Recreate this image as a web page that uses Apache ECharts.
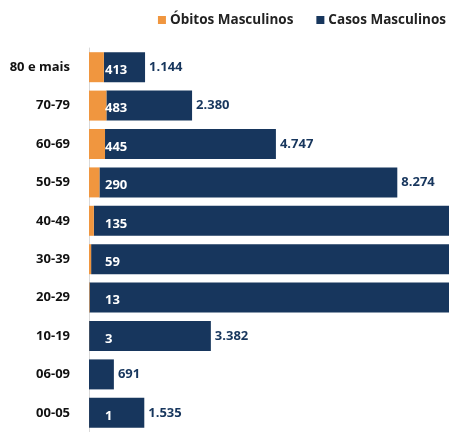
<!DOCTYPE html>
<html>
<head>
<meta charset="utf-8">
<script src="https://cdn.jsdelivr.net/npm/echarts@6/dist/echarts.min.js"></script>
<style>html,body{margin:0;padding:0;background:#fff}#c{width:449px;height:432px}</style>
</head>
<body>
<div id="c"></div>
<script>
var categories = ['80 e mais', '70-79', '60-69', '50-59', '40-49', '30-39', '20-29', '10-19', '06-09', '00-05'];
var obitos = [413, 483, 445, 290, 135, 59, 13, 3, 0, 1];
var casos = [1144, 2380, 4747, 8274, 11900, 12600, 10400, 3382, 691, 1535];
var seriesNames = ['Óbitos Masculinos', 'Casos Masculinos'];

function fmt(v) {
  return String(v).replace(/\B(?=(\d{3})+(?!\d))/g, '.');
}
var FONT = 'Open Sans';
var chart = echarts.init(document.getElementById('c'), null, {renderer: 'canvas'});
chart.setOption({
  animation: false,
  backgroundColor: '#fff',
  legend: {
    top: 13, right: 3, padding: 0,
    itemWidth: 8, itemHeight: 8, itemGap: 23,
    icon: 'rect',
    textStyle: {fontFamily: FONT, fontWeight: 'bold', fontSize: 13.5, color: '#222', padding: [0, 0, 0, -1]},
    data: seriesNames
  },
  grid: {left: 89, right: 0, top: 48, height: 396, containLabel: false},
  xAxis: {
    type: 'value', min: 0, max: 10000,
    axisLine: {show: false}, axisTick: {show: false}, axisLabel: {show: false}, splitLine: {show: false}
  },
  yAxis: {
    type: 'category', inverse: true, data: categories,
    axisLine: {show: true, lineStyle: {color: '#d9d9d9', width: 1}},
    axisTick: {show: false},
    axisLabel: {margin: 19, fontFamily: FONT, fontWeight: 'bold', fontSize: 13, color: '#111'}
  },
  series: [
    {
      name: seriesNames[0], type: 'bar', stack: 'total', barWidth: 30,
      itemStyle: {color: '#F0963F'},
      data: obitos,
      z: 3,
      label: {
        show: true, position: 'insideLeft', distance: 16, offset: [0, 3],
        color: '#fff', fontFamily: FONT, fontWeight: 'bold', fontSize: 13,
        formatter: function (p) { return p.value ? fmt(p.value) : ''; }
      }
    },
    {
      name: seriesNames[1], type: 'bar', stack: 'total', barWidth: 30,
      itemStyle: {color: '#17365D'},
      data: casos,
      z: 2,
      label: {
        show: true, position: 'right', distance: 4,
        color: '#17365D', fontFamily: FONT, fontWeight: 'bold', fontSize: 13,
        formatter: function (p) { return fmt(p.value); }
      }
    }
  ]
});
</script>
</body>
</html>
